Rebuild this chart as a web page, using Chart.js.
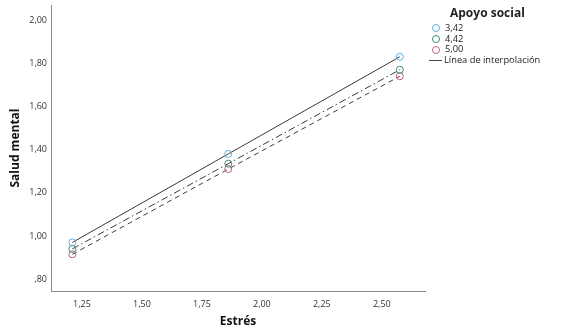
<!DOCTYPE html>
<html>
<head>
<meta charset="utf-8">
<script src="https://cdn.jsdelivr.net/npm/chart.js@4"></script>
<style>
  html, body { margin: 0; padding: 0; background: #fff; }
  .wrap { position: relative; width: 569px; height: 334px; font-family: "Open Sans", Arial, sans-serif; }
  canvas { position: absolute; left: 0; top: 0; }
  .legend { position: absolute; left: 429px; top: 6px; color: #222; font-size: 9.3px; line-height: 10.7px; }
  .legend .title { font-weight: bold; font-size: 12px; line-height: 14px; margin: 0 0 3px 21px; }
  .legend .item { display: flex; align-items: center; height: 10.7px; }
  .legend .dot { width: 8px; height: 8px; border-radius: 50%; border: 1px solid; margin: 0 5px 0 3px; box-sizing: border-box; }
  .legend .ln { width: 13px; border-top: 1px solid #444; margin-right: 2px; }
</style>
</head>
<body>
<div class="wrap">
  <canvas id="chart" width="569" height="334"></canvas>
  <div class="legend" id="legend"></div>
</div>
<script>
  // Estrés values where the three groups are evaluated
  const estres = [1.21, 1.86, 2.575];
  // Salud mental per level of Apoyo social
  const grupos = ['3,42', '4,42', '5,00'];
  const salud342 = [0.97, 1.38, 1.83];
  const salud442 = [0.94, 1.335, 1.77];
  const salud500 = [0.915, 1.31, 1.74];
  const xTicks = [1.25, 1.50, 1.75, 2.00, 2.25, 2.50];
  const yTicks = [0.80, 1.00, 1.20, 1.40, 1.60, 1.80, 2.00];

  const colores = ['#5aaee0', '#3c8c80', '#c25c86'];
  const dashes = [[], [7, 3, 1.5, 3], [5, 4]];
  const series = [salud342, salud442, salud500];

  const fmt = v => {
    const s = v.toFixed(2).replace('.', ',');
    return s.startsWith('0') ? s.slice(1) : s;
  };

  const datasets = series.map((vals, i) => ({
    label: grupos[i],
    data: estres.map((x, j) => ({ x, y: vals[j] })),
    showLine: true,
    borderColor: '#3a3a3a',
    borderWidth: 1,
    borderDash: dashes[i],
    pointRadius: 3.5,
    pointBorderWidth: 1,
    pointBorderColor: colores[i],
    pointBackgroundColor: 'rgba(255,255,255,0)',
  }));

  new Chart(document.getElementById('chart'), {
    type: 'scatter',
    data: { datasets },
    options: {
      responsive: false,
      animation: false,
      layout: { padding: { top: 3, right: 144, bottom: 5, left: 8 } },
      plugins: { legend: { display: false }, tooltip: { enabled: false } },
      scales: {
        x: {
          min: 1.121, max: 2.68,
          afterBuildTicks: s => { s.ticks = xTicks.map(value => ({ value })); },
          afterFit: s => { s.height = 38; s.paddingLeft = 0; s.paddingRight = 0; },
          ticks: { callback: fmt, color: '#333', font: { size: 9, family: 'Open Sans' }, padding: 8, maxRotation: 0 },
          grid: { display: false, drawTicks: false },
          border: { display: true, color: '#8a8a8a', width: 1 },
          title: { display: true, text: 'Estrés', color: '#111', font: { size: 12, weight: 'bold', family: 'Open Sans' }, padding: { top: 0, bottom: 0 } },
        },
        y: {
          min: 0.745, max: 2.07,
          afterBuildTicks: s => { s.ticks = yTicks.map(value => ({ value })); },
          afterFit: s => { s.width = 43; s.paddingTop = 0; s.paddingBottom = 0; },
          ticks: { callback: fmt, color: '#333', font: { size: 9, family: 'Open Sans' }, padding: 4 },
          grid: { display: false, drawTicks: false },
          border: { display: true, color: '#8a8a8a', width: 1 },
          title: { display: true, text: 'Salud mental', color: '#111', font: { size: 12, weight: 'bold', family: 'Open Sans' }, padding: { top: 0, bottom: 0 } },
        },
      },
    },
  });

  // Legend drawn as HTML text beside the plot
  const legend = document.getElementById('legend');
  let html = '<div class="title">Apoyo social</div>';
  grupos.forEach((g, i) => {
    html += `<div class="item"><span class="dot" style="border-color:${colores[i]}"></span>${g}</div>`;
  });
  html += '<div class="item"><span class="ln"></span>Línea de interpolación</div>';
  legend.innerHTML = html;
</script>
</body>
</html>
